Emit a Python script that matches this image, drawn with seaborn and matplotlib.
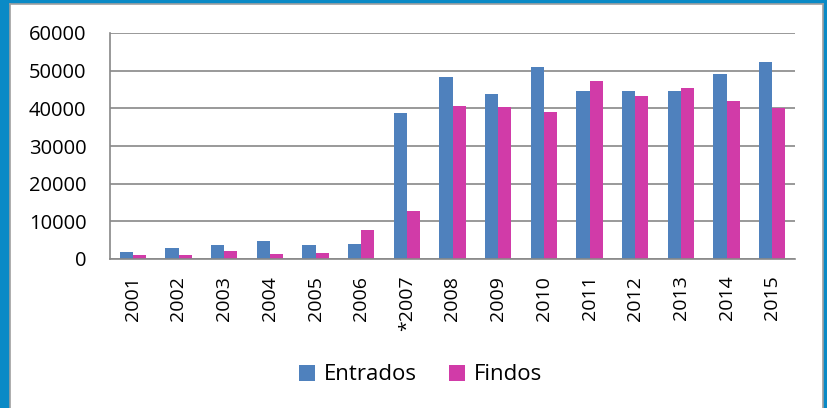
import numpy as np
import pandas as pd
import matplotlib.pyplot as plt
import seaborn as sns

# Values
anos = ['2001', '2002', '2003', '2004', '2005', '2006', '*2007', '2008',
        '2009', '2010', '2011', '2012', '2013', '2014', '2015']
entrados = [1900, 2850, 3600, 4900, 3750, 4100, 38800, 48300,
            43850, 50900, 44650, 44650, 44650, 49000, 52400]
findos = [1000, 1100, 2000, 1350, 1600, 7600, 12700, 40650,
          40250, 39100, 47300, 43150, 45500, 41950, 40200]

df = pd.DataFrame({
    'ano': anos * 2,
    'valor': entrados + findos,
    'serie': ['Entrados'] * len(anos) + ['Findos'] * len(anos),
})

sns.set_style('white')
plt.rcParams['font.family'] = ['Open Sans', 'DejaVu Sans']
plt.rcParams['text.color'] = 'black'

fig = plt.figure(figsize=(8.27, 4.08), dpi=100)
fig.patch.set_facecolor('#0a8ac6')

# white panel behind the chart
bg = fig.add_axes([10 / 827, -0.01, 813 / 827, 1 - 4 / 408 + 0.01], zorder=0)
bg.set_facecolor('white')
bg.set_xticks([])
bg.set_yticks([])
for s in bg.spines.values():
    s.set_color('#a0a0a0')
    s.set_linewidth(1.2)

ax = fig.add_axes([110 / 827, 1 - 259 / 408, 685 / 827, 226 / 408], zorder=1)
ax.set_facecolor('none')

sns.barplot(data=df, x='ano', y='valor', hue='serie', ax=ax,
            palette=['#4f81bd', '#d13ba8'], width=0.58, saturation=1,
            edgecolor='none', legend=True)

ax.set_ylim(0, 60000)
ax.set_xlim(-0.5, len(anos) - 0.5)
ax.set_yticks(np.arange(0, 60001, 10000))
ax.yaxis.grid(True, color='#888888', linewidth=1.2)
ax.set_axisbelow(True)
ax.set_xlabel('')
ax.set_ylabel('')

for s in ['top', 'right']:
    ax.spines[s].set_visible(False)
for s in ['left', 'bottom']:
    ax.spines[s].set_color('#888888')
    ax.spines[s].set_linewidth(1.2)

ax.set_xticks(np.arange(len(anos)))
ax.set_xticklabels(anos, rotation=90, fontsize=14)
ax.tick_params(axis='x', length=0, pad=12, labelcolor='black')
ax.set_xticks(np.arange(-0.5, len(anos)), minor=True)
ax.tick_params(axis='x', which='minor', length=5, color='#888888', width=1.2)
ax.tick_params(axis='y', length=6, color='#888888', width=1.2,
               labelsize=14.5, pad=11, labelcolor='black')

handles, labels = ax.get_legend_handles_labels()
ax.get_legend().remove()
fig.legend(handles, labels, loc='center', bbox_to_anchor=(421 / 827, 1 - 375 / 408),
           ncol=2, frameon=False, fontsize=16, handlelength=0.7,
           handleheight=0.7, handletextpad=0.42, columnspacing=1.45,
           labelcolor='black')

fig.savefig('out.png', dpi=100, facecolor=fig.get_facecolor())
